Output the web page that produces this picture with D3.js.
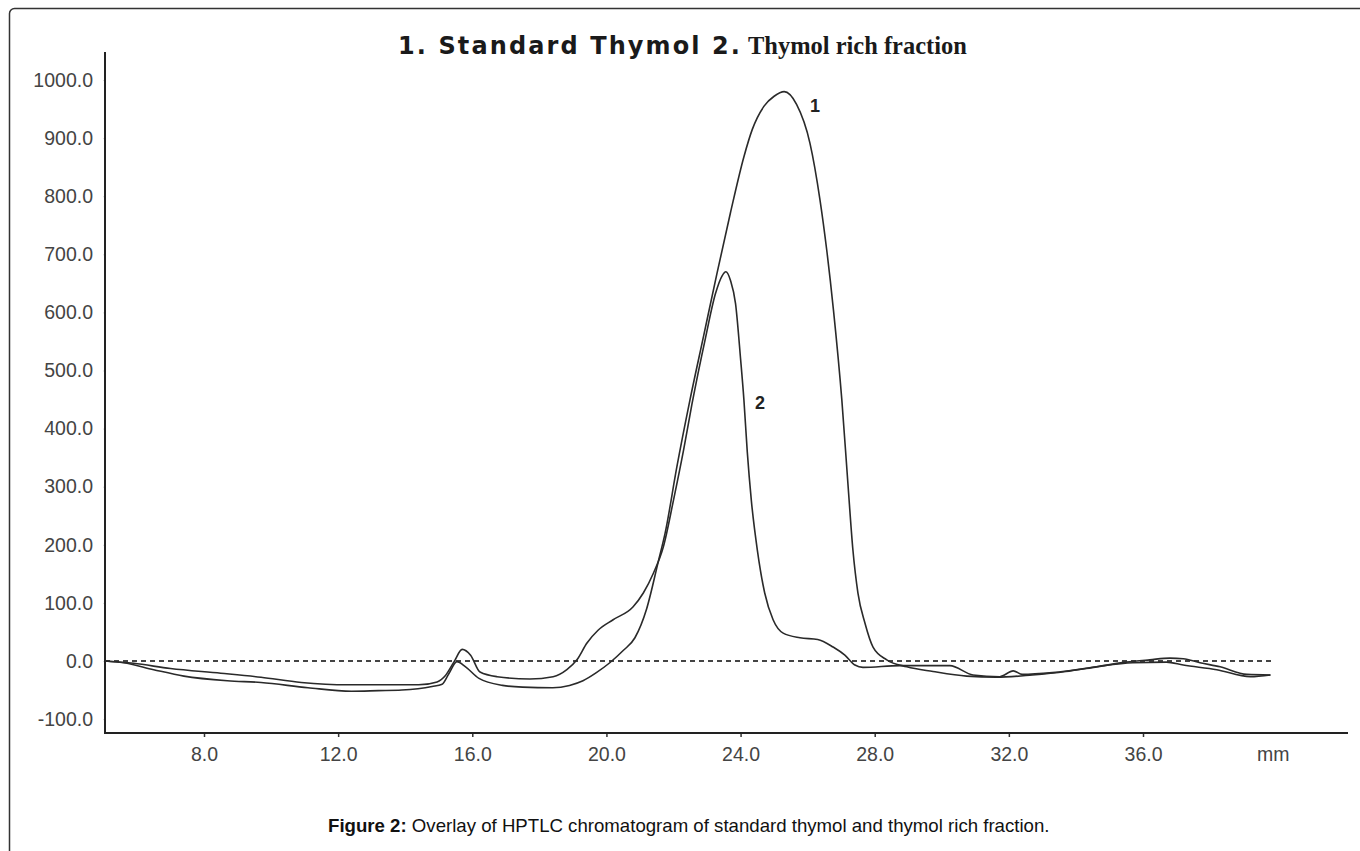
<!DOCTYPE html>
<html>
<head>
<meta charset="utf-8">
<script src="https://cdn.jsdelivr.net/npm/d3@7"></script>
<style>
  html, body { margin: 0; padding: 0; background: #fff; }
  svg { display: block; }
</style>
</head>
<body>
<svg id="chart" width="1360" height="851"></svg>
<script>
// ---- data ----
const xTickValues = [8, 12, 16, 20, 24, 28, 32, 36];
const xUnitLabel = "mm";
const yTickValues = [-100, 0, 100, 200, 300, 400, 500, 600, 700, 800, 900, 1000];

// 1. Standard Thymol
const standardMm = [5.05,5.6,6.5,7.4,8.7,9.7,11.1,12.4,13.2,13.9,14.8,15.1,15.3,15.54,15.8,16.2,16.9,17.5,18.4,18.9,19.3,19.7,20.1,20.5,20.85,21.2,21.55,21.75,22.1,22.49,22.9,23.3,23.7,24.1,24.35,24.7,25.0,25.3,25.67,26.07,26.37,26.57,26.77,27.02,27.2,27.35,27.5,27.71,27.95,28.36,28.96,29.74,30.74,31.63,32.7,33.7,34.7,35.7,36.7,37.2,38.2,39.2,39.8];
const standardAU = [0,-3,-15,-26,-34,-37,-46,-52,-51,-50,-44,-40,-22,-1,-10,-30,-42,-45,-46,-42,-34,-20,-3,18,40,90,172,220,334,449,560,668,772,868,915,955,972,980,958,891,793,707,604,449,306,191,117,65,24,2,-10,-18,-26,-28,-24,-18,-9,-3,-2,-7,-15,-27,-24];

// 2. Thymol rich fraction
const fractionMm = [5.05,5.9,7.0,8.5,9.7,10.9,12.3,13.5,14.4,14.95,15.2,15.45,15.7,15.95,16.23,16.74,17.72,18.41,18.82,19.12,19.42,19.75,20.2,20.79,21.1,21.4,21.7,22.0,22.3,22.55,22.95,23.25,23.45,23.56,23.7,23.85,24.0,24.1,24.2,24.32,24.5,24.72,24.97,25.27,25.77,26.3,26.76,27.11,27.41,27.65,28.75,30.24,30.93,31.73,32.13,32.4,33.3,34.3,35.5,36.2,36.8,37.2,37.7,38.3,39.1,39.8];
const fractionAU = [0,-4,-13,-21,-28,-37,-41,-41,-41,-36,-25,-2,20,10,-19,-27,-31,-27,-15,2,31,53,71,93,117,151,197,277,363,442,555,632,663,670,655,615,520,449,360,277,191,117,71,48,40,37,24,10,-7,-11,-8,-8,-24,-27,-17,-23,-20,-13,-2,2,5,4,-3,-10,-23,-24];

const titlePart1 = "1. Standard Thymol 2.";
const titlePart2 = "Thymol rich fraction";
const captionBold = "Figure 2:";
const captionText = " Overlay of HPTLC chromatogram of standard thymol and thymol rich fraction.";

// ---- layout ----
const svg = d3.select("#chart");
const plotLeft = 105, plotRight = 1348, plotTop = 52, plotBottom = 733;

const x = d3.scaleLinear().domain([8, 36]).range([204, 1143]);
const y = d3.scaleLinear().domain([-100, 1000]).range([719.1, 80]);
const fmt = v => d3.format(".1f")(v).replace("\u2212", "-");

// frame
svg.append("rect")
  .attr("x", 9.5).attr("y", 8.5).attr("width", 1400).attr("height", 900)
  .attr("rx", 5).attr("fill", "none").attr("stroke", "#333").attr("stroke-width", 1.5);

// zero dotted line
svg.append("line")
  .attr("x1", plotLeft).attr("x2", x(39.85))
  .attr("y1", y(0)).attr("y2", y(0))
  .attr("stroke", "#444").attr("stroke-width", 2)
  .attr("stroke-dasharray", "5,4");

// axes
const xAxis = d3.axisBottom(x).tickValues(xTickValues).tickSize(4).tickFormat(fmt);
const gx = svg.append("g").attr("transform", `translate(0,${plotBottom})`).call(xAxis);
gx.select(".domain").remove();
gx.selectAll(".tick line").attr("stroke", "#333").attr("stroke-width", 1.5);
gx.selectAll(".tick text")
  .attr("font-family", "Liberation Sans, Arial, sans-serif")
  .attr("font-size", 19.5).attr("fill", "#444").attr("dy", "0.71em").attr("y", 14);

svg.append("text")
  .attr("x", x(40) - 4).attr("y", plotBottom + 14).attr("dy", "0.71em")
  .attr("text-anchor", "middle")
  .attr("font-family", "Liberation Sans, Arial, sans-serif")
  .attr("font-size", 19.5).attr("fill", "#444")
  .text(xUnitLabel);

const yAxis = d3.axisLeft(y).tickValues(yTickValues).tickSize(2).tickFormat(fmt);
const gy = svg.append("g").attr("transform", `translate(${plotLeft},0)`).call(yAxis);
gy.select(".domain").remove();
gy.selectAll(".tick line").attr("stroke", "#ddd").attr("stroke-width", 1);
gy.selectAll(".tick text")
  .attr("font-family", "Liberation Sans, Arial, sans-serif")
  .attr("font-size", 19.5).attr("fill", "#444").attr("x", -12);

// axis lines
svg.append("line").attr("x1", plotLeft).attr("x2", plotLeft)
  .attr("y1", plotTop).attr("y2", plotBottom)
  .attr("stroke", "#222").attr("stroke-width", 2);
svg.append("line").attr("x1", plotLeft - 1).attr("x2", plotRight)
  .attr("y1", plotBottom).attr("y2", plotBottom)
  .attr("stroke", "#222").attr("stroke-width", 2);

// curves
const line = d3.line()
  .x(d => x(d[0])).y(d => y(d[1]))
  .curve(d3.curveMonotoneX);

const standardPts = standardMm.map((m, i) => [m, standardAU[i]]);
const fractionPts = fractionMm.map((m, i) => [m, fractionAU[i]]);

[standardPts, fractionPts].forEach(pts => {
  svg.append("path").datum(pts)
    .attr("d", line)
    .attr("fill", "none")
    .attr("stroke", "#2a2a2a")
    .attr("stroke-width", 1.6)
    .attr("stroke-linejoin", "round");
});

// peak labels
svg.append("text").attr("x", 815).attr("y", 112).attr("text-anchor", "middle")
  .attr("font-family", "Liberation Sans, Arial, sans-serif").attr("font-weight", "bold")
  .attr("font-size", 18).attr("fill", "#222").text("1");
svg.append("text").attr("x", 760).attr("y", 409).attr("text-anchor", "middle")
  .attr("font-family", "Liberation Sans, Arial, sans-serif").attr("font-weight", "bold")
  .attr("font-size", 18).attr("fill", "#222").text("2");

// title (two typefaces, as in the reference)
function fitText(sel, targetWidth, baseSize) {
  const w = sel.node().getComputedTextLength();
  sel.attr("font-size", baseSize * targetWidth / w);
}
const t1 = svg.append("text")
  .attr("x", 398).attr("y", 54)
  .attr("font-family", "DejaVu Sans, Verdana, sans-serif")
  .attr("font-weight", "bold").attr("font-size", 24).attr("fill", "#1a1a1a")
  .text(titlePart1);
{
  const w = t1.node().getComputedTextLength();
  const n = titlePart1.length;
  const target = 740 - 398;
  const ls = Math.max(0, (target - w) / (n - 1));
  t1.attr("letter-spacing", ls.toFixed(2));
}
const t2 = svg.append("text")
  .attr("x", 748).attr("y", 54)
  .attr("font-family", "Liberation Serif, Times New Roman, serif")
  .attr("font-weight", "bold").attr("font-size", 24).attr("fill", "#1a1a1a")
  .text(titlePart2);
fitText(t2, 219, 24);

// caption
const cap = svg.append("text")
  .attr("x", 328).attr("y", 832)
  .attr("font-family", "Liberation Sans, Arial, sans-serif")
  .attr("font-size", 18).attr("fill", "#111");
cap.append("tspan").attr("font-weight", "bold").text(captionBold);
cap.append("tspan").text(captionText);
fitText(cap, 722, 18);
</script>
</body>
</html>
